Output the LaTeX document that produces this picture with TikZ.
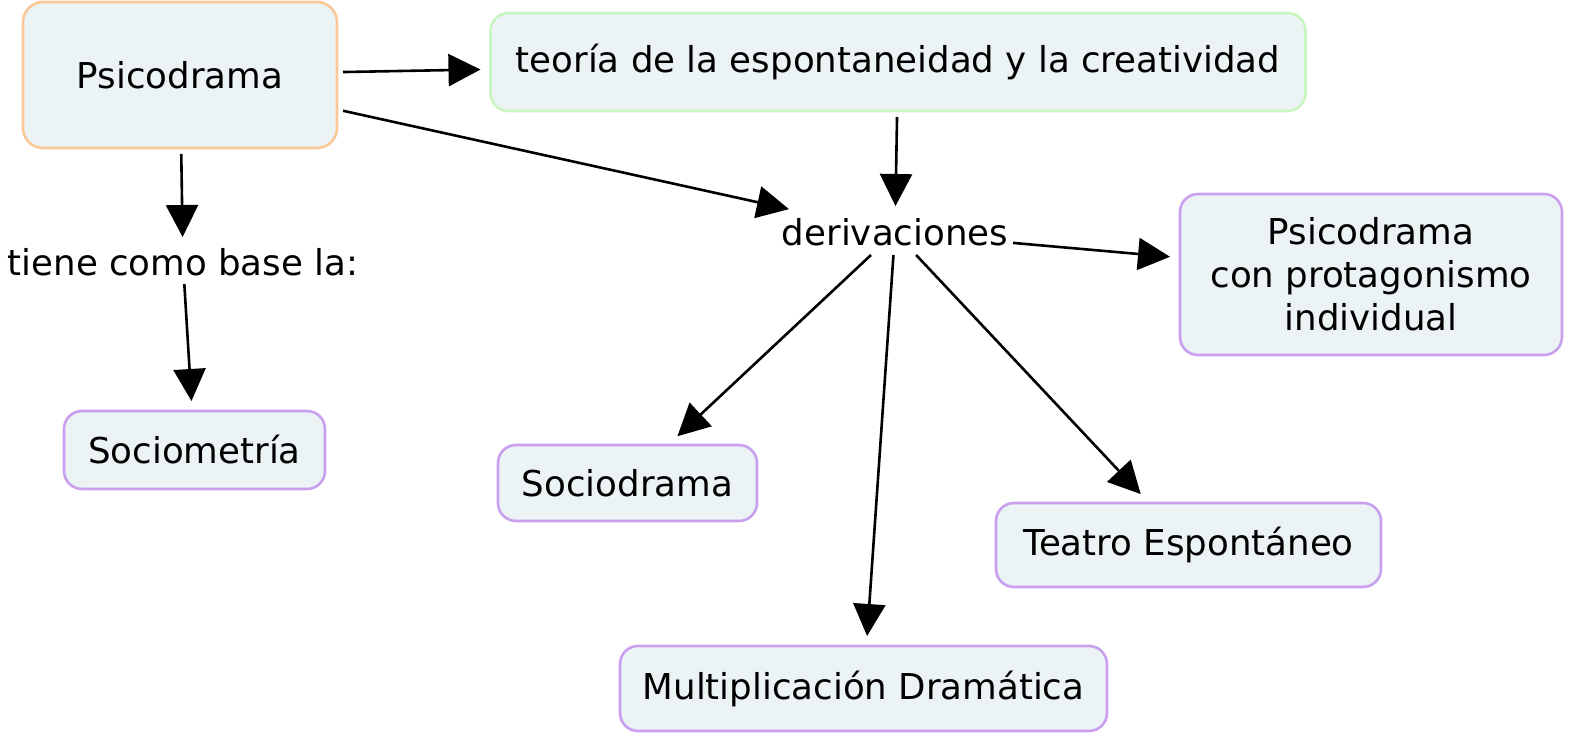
\documentclass[tikz,border=0pt]{standalone}
\usepackage{fontspec}
\setmainfont{DejaVu Sans}
\usetikzlibrary{arrows.meta}
\definecolor{boxfill}{HTML}{ECF3F5}
\definecolor{orangeb}{HTML}{F9C896}
\definecolor{greenb}{HTML}{C8F5C0}
\definecolor{purpleb}{HTML}{C8A0EE}
\tikzset{
  cbox/.style={draw, line width=1.3pt, fill=boxfill, rounded corners=9pt, inner sep=0pt, outer sep=3pt, align=center, font=\fontsize{17.8}{21.5}\selectfont},
  ctext/.style={inner sep=0pt, outer sep=0pt, font=\fontsize{17.8}{21.5}\selectfont},
  conn/.style={line width=1.3pt, -{Triangle[length=16pt,width=16pt]}, shorten >=2pt}
}
\begin{document}
\begin{tikzpicture}[x=0.5pt,y=-0.5pt]
\useasboundingbox (0,0) rectangle (1574,743);
\node[cbox, draw=orangeb, minimum width=157pt, minimum height=73pt, rounded corners=10pt] (psico) at (180,75) {Psicodrama};
\node[cbox, draw=greenb, minimum width=407.5pt, minimum height=49pt] (teoria) at (898,62) {teoría de la espontaneidad y la creatividad};
\node[ctext, minimum width=118pt, minimum height=22.5pt] (deriv) at (895,232.5) {derivaciones};
\node[cbox, draw=purpleb, minimum width=191pt, minimum height=80.5pt] (prot) at (1371,274.5) {Psicodrama\\con protagonismo\\individual};
\node[ctext, minimum width=180pt, minimum height=21.5pt] (tiene) at (183,262.5) {tiene como base la:};
\node[cbox, draw=purpleb, minimum width=130.5pt, minimum height=39pt] (sociom) at (194.5,450) {Sociometría};
\node[cbox, draw=purpleb, minimum width=129.5pt, minimum height=38pt] (sociod) at (627.5,483) {Sociodrama};
\node[cbox, draw=purpleb, minimum width=192.5pt, minimum height=42pt] (teatro) at (1188.5,545) {Teatro Espontáneo};
\node[cbox, draw=purpleb, minimum width=243.5pt, minimum height=42.5pt] (multi) at (863.5,688.5) {Multiplicación Dramática};
\draw[conn] (psico) -- (teoria);
\draw[conn] (psico) -- (deriv);
\draw[conn] (teoria) -- (deriv);
\draw[conn] (psico) -- (tiene);
\draw[conn] (tiene) -- (sociom);
\draw[conn] (deriv) -- (prot);
\draw[conn] (deriv) -- (sociod);
\draw[conn] (deriv) -- (multi);
\draw[conn] (deriv) -- (teatro);
\end{tikzpicture}
\end{document}
